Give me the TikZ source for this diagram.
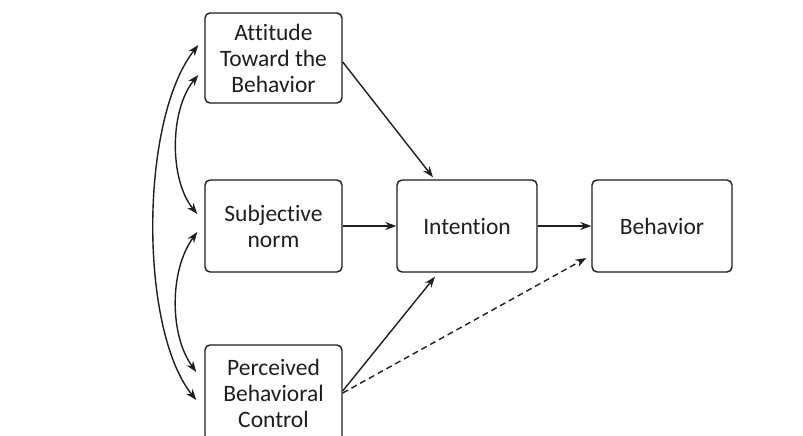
\documentclass[tikz,border=0pt]{standalone}
\usepackage{fontspec}
\setmainfont[Ligatures={NoCommon}]{Carlito}
\usetikzlibrary{arrows.meta}
\definecolor{ink}{HTML}{1E1E1E}
\begin{document}
\begin{tikzpicture}[x=1pt,y=-1pt,
  box/.style={draw=ink,line width=1.4pt,rounded corners=5pt,align=center,
    text=ink,font=\fontsize{23.5}{26}\selectfont,inner sep=0pt},
  link/.style={draw=ink,line width=1.4pt,-{Stealth[length=11pt,width=8pt]}},
  both/.style={draw=ink,line width=1.4pt,{Stealth[length=11pt,width=8pt]}-{Stealth[length=11pt,width=8pt]}}]
\useasboundingbox (0,0) rectangle (803,436);
\clip (0,0) rectangle (803,436);
\fill[white] (0,0) rectangle (803,436);

% construct boxes
\node[box,minimum width=137pt,minimum height=90pt] (att) at (273.5,58) {Attitude\\Toward the\\Behavior};
\node[box,minimum width=137pt,minimum height=92pt] (subj) at (273.5,226) {Subjective\\norm};
\node[box,minimum width=140pt,minimum height=92pt] (int) at (467,226) {Intention};
\node[box,minimum width=140pt,minimum height=92pt] (beh) at (662,226) {Behavior};
\node[box,minimum width=137pt,minimum height=96pt] (pbc) at (273.5,393) {Perceived\\Behavioral\\Control};

% direct paths
\draw[link] ([yshift=-4pt]att.east) -- ([xshift=-34pt,yshift=2pt]int.north);
\draw[link] (subj.east) -- (int.west);
\draw[link] (int.east) -- (beh.west);
\draw[link] ([yshift=2pt]pbc.east) -- ([xshift=-32pt,yshift=-4pt]int.south);
\draw[link,dashed,dash pattern=on 6pt off 4pt] (pbc.east) -- ([xshift=-5pt,yshift=-32pt]beh.west);

% correlations among the three antecedents
\coordinate (a1) at ([xshift=-6pt,yshift=13pt]att.west);
\coordinate (a2) at ([xshift=-6pt,yshift=-17pt]att.west);
\coordinate (s1) at ([xshift=-7pt,yshift=12pt]subj.west);
\coordinate (s2) at ([xshift=-7pt,yshift=-6pt]subj.west);
\coordinate (p1) at ([xshift=-8pt,yshift=21pt]pbc.west);
\coordinate (p2) at ([xshift=-8pt,yshift=-7pt]pbc.west);
\draw[both] (a1) .. controls +(-59,75) and +(-57,-70) .. (p2);
\draw[both] (a2) .. controls +(-29,35) and +(-28,-34) .. (s1);
\draw[both] (s2) .. controls +(-28,38) and +(-27,-37) .. (p1);
\end{tikzpicture}
\end{document}
